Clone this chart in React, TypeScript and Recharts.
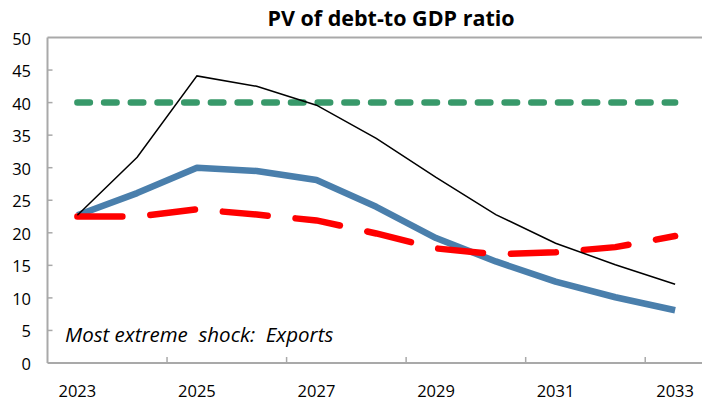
import React from "react";
import { LineChart, Line, XAxis, YAxis, ReferenceLine, Customized } from "recharts";

const years = [2023, 2024, 2025, 2026, 2027, 2028, 2029, 2030, 2031, 2032, 2033];
const baseline = [22.7, 26.1, 30.0, 29.5, 28.1, 24.0, 19.2, 15.6, 12.5, 10.1, 8.1];
const historical = [22.5, 22.5, 23.6, 22.8, 21.9, 19.9, 17.6, 16.7, 17.0, 17.8, 19.5];
const extremeShock = [22.7, 31.6, 44.1, 42.5, 39.6, 34.5, 28.5, 22.8, 18.4, 15.1, 12.1];
const threshold = [40, 40, 40, 40, 40, 40, 40, 40, 40, 40, 40];

const yTicks = [0, 5, 10, 15, 20, 25, 30, 35, 40, 45, 50];
const xLabelYears = [2023, 2025, 2027, 2029, 2031, 2033];
const xTickMarks = [2024.5, 2026.5, 2028.5, 2030.5, 2032.5];

const titleText = "PV of debt-to GDP ratio";
const noteText = "Most extreme  shock:  Exports";

const data = years.map((year, i) => ({
  year,
  baseline: baseline[i],
  historical: historical[i],
  extremeShock: extremeShock[i],
  threshold: threshold[i],
}));

const xTicks = [...xLabelYears, ...xTickMarks].sort((a, b) => a - b);

const AXIS = "#a9a9a9";
const FONT = "'Open Sans', 'Noto Sans', sans-serif";

const XTick = (props: any) => {
  const { x, y, payload } = props;
  const v = payload.value;
  if (Number.isInteger(v)) {
    return (
      <text x={x} y={y + 34} textAnchor="middle" fontFamily={FONT} fontSize={16.5} fill="#000">
        {v}
      </text>
    );
  }
  return <line x1={x} x2={x} y1={y} y2={y - 6} stroke={AXIS} strokeWidth={1.5} />;
};

const YTick = (props: any) => {
  const { x, y, payload } = props;
  return (
    <g>
      {payload.value !== 0 && payload.value !== 50 ? (
        <line x1={x} x2={x + 5} y1={y} y2={y} stroke={AXIS} strokeWidth={1.5} />
      ) : null}
      <text x={x - 16.5} y={y + 7} textAnchor="end" fontFamily={FONT} fontSize={16.5} fill="#000">
        {payload.value}
      </text>
    </g>
  );
};

const Texts = () => (
  <g>
    <text x={391} y={26} textAnchor="middle" fontFamily={FONT} fontWeight="bold" fontSize={21.5} fill="#000">
      {titleText}
    </text>
    <text x={65} y={341.5} fontFamily={FONT} fontStyle="italic" fontSize={20.5} fill="#000" style={{ whiteSpace: "pre" }}>
      {noteText}
    </text>
  </g>
);

export default function App() {
  return (
    <div style={{ position: "absolute", left: 0, top: 0, width: 702, height: 407, overflow: "hidden", background: "#fff" }}>
      <LineChart width={720} height={407} data={data} margin={{ top: 37.5, right: 15, left: 0, bottom: 0 }}>
        <XAxis
          dataKey="year"
          type="number"
          domain={[2022.5, 2033.5]}
          ticks={xTicks}
          interval={0}
          tick={<XTick />}
          tickLine={false}
          tickSize={0}
          tickMargin={0}
          height={44}
          axisLine={{ stroke: AXIS, strokeWidth: 2 }}
          allowDecimals
        />
        <YAxis
          type="number"
          domain={[0, 50]}
          ticks={yTicks}
          interval={0}
          tick={<YTick />}
          tickLine={false}
          tickSize={0}
          tickMargin={0}
          width={47.5}
          axisLine={{ stroke: AXIS, strokeWidth: 2 }}
        />
        <ReferenceLine y={50} stroke={AXIS} strokeWidth={2} />
        <Line
          dataKey="baseline"
          stroke="#4a7fac"
          strokeWidth={6.5}
          dot={false}
          type="linear"
          strokeLinejoin="round"
          isAnimationActive={false}
        />
        <Line
          dataKey="historical"
          stroke="#ff0000"
          strokeWidth={6.5}
          strokeDasharray="45 28"
          strokeLinecap="round"
          dot={false}
          type="linear"
          isAnimationActive={false}
        />
        <Line
          dataKey="threshold"
          stroke="#38996a"
          strokeWidth={6.5}
          strokeDasharray="12.5 14.2"
          strokeLinecap="round"
          dot={false}
          type="linear"
          isAnimationActive={false}
        />
        <Line
          dataKey="extremeShock"
          stroke="#000"
          strokeWidth={1.5}
          dot={false}
          type="linear"
          isAnimationActive={false}
        />
        <Customized component={Texts} />
      </LineChart>
    </div>
  );
}
